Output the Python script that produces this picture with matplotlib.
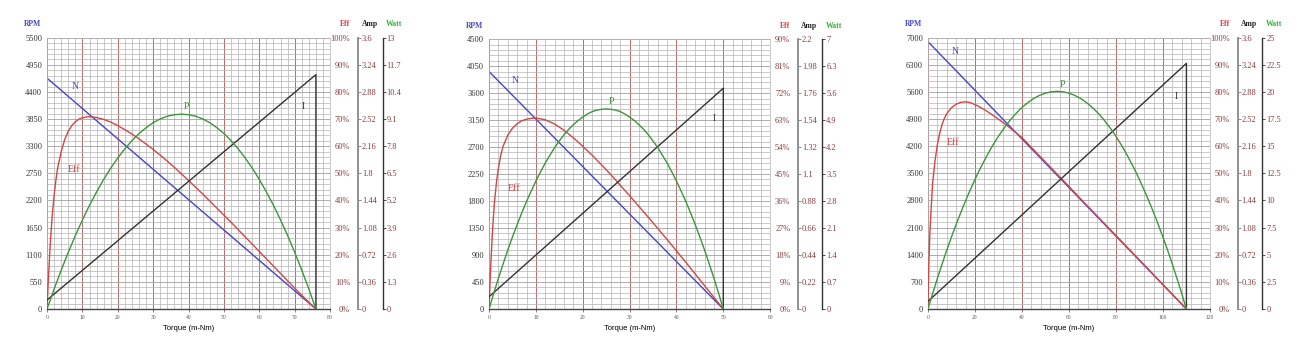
import numpy as np
import matplotlib.pyplot as plt

plt.rcParams['font.family'] = ['Liberation Serif', 'DejaVu Serif']

# ---- motor 1 ----
m1_n_torque = [0, 76]
m1_n_rpm = [4680, 0]
m1_i_torque = [0, 76, 76]
m1_i_amp = [0.12, 3.11, 0]
m1_eff_torque = [0, 0.25, 0.5, 0.75, 1, 1.5, 2, 2.5, 3, 4, 5, 6, 7, 8, 9, 10, 11,
                 12, 14, 16, 18, 20, 22, 24, 26, 28, 30, 32, 34, 36, 38, 40, 42,
                 44, 46, 48, 50, 52, 54, 56, 58, 60, 62, 64, 66, 68, 70, 72, 74, 76]
m1_eff_pct = [0, 7.5, 14, 20.5, 26, 35, 42, 47.5, 52, 58, 62.5, 65.5, 67.6, 69.0,
              70.0, 70.5, 70.8, 70.9, 70.6, 69.9, 68.9, 67.6, 66.1, 64.5, 62.7,
              60.8, 58.8, 56.7, 54.5, 52.2, 49.8, 47.4, 44.9, 42.4, 39.8, 37.2,
              34.6, 32.0, 29.3, 26.6, 23.9, 21.2, 18.5, 15.8, 13.1, 10.4, 7.7, 5.1,
              2.5, 0]
m1_p_torque = [0, 2, 4, 6, 8, 10, 12, 14, 16, 18, 20, 22, 24, 26, 28, 30, 32, 34,
               36, 38, 40, 42, 44, 46, 48, 50, 52, 54, 56, 58, 60, 62, 64, 66, 68,
               70, 72, 74, 76]
m1_p_watt = [0, 0.96, 1.86, 2.72, 3.52, 4.27, 4.97, 5.61, 6.21, 6.75, 7.24, 7.68,
             8.07, 8.41, 8.69, 8.93, 9.11, 9.24, 9.31, 9.34, 9.31, 9.24, 9.11, 8.93,
             8.69, 8.41, 8.07, 7.68, 7.24, 6.75, 6.21, 5.61, 4.97, 4.27, 3.52, 2.72,
             1.86, 0.96, 0]

# ---- motor 2 ----
m2_n_torque = [0, 50]
m2_n_rpm = [3960, 0]
m2_i_torque = [0, 50, 50]
m2_i_amp = [0.10, 1.80, 0]
m2_eff_torque = [0, 0.2, 0.4, 0.6, 0.8, 1.0, 1.2, 1.6, 2, 2.5, 3, 4, 5, 6, 7, 8, 9,
                 10, 12, 14, 16, 18, 20, 22, 24, 26, 28, 30, 32, 34, 36, 38, 40,
                 42, 44, 46, 48, 50]
m2_eff_pct = [0, 8.5, 15.5, 22, 27.5, 32.3, 36.4, 42.5, 47, 51.3, 54.3, 58.0, 60.3,
              61.8, 62.8, 63.3, 63.6, 63.7, 63.1, 61.7, 59.6, 57.1, 54.3, 51.3,
              48.1, 44.8, 41.3, 37.8, 34.2, 30.6, 26.9, 23.2, 19.4, 15.6, 11.7, 7.8,
              3.9, 0]
m2_p_torque = list(range(0, 51))
m2_p_watt = [0, 0.41, 0.80, 1.17, 1.53, 1.87, 2.19, 2.50, 2.79, 3.06, 3.32, 3.56,
             3.79, 3.99, 4.19, 4.36, 4.52, 4.66, 4.78, 4.89, 4.98, 5.06, 5.12, 5.16,
             5.18, 5.19, 5.18, 5.16, 5.12, 5.06, 4.98, 4.89, 4.78, 4.66, 4.52, 4.36,
             4.19, 3.99, 3.79, 3.56, 3.32, 3.06, 2.79, 2.50, 2.19, 1.87, 1.53, 1.17,
             0.80, 0.41, 0]

# ---- motor 3 ----
m3_n_torque = [0, 110]
m3_n_rpm = [6900, 0]
m3_i_torque = [0, 110, 110]
m3_i_amp = [0.10, 3.26, 0]
m3_eff_torque = [0, 0.2, 0.4, 0.7, 1, 1.3, 2, 3, 4, 5, 6, 7, 8, 10, 12, 14, 16, 18,
                 20, 22, 24, 26, 28, 30, 32, 34, 36, 38, 40, 45, 50, 55, 60, 65, 70,
                 75, 80, 85, 90, 95, 100, 105, 110]
m3_eff_pct = [0, 9, 17, 25, 31, 36, 46.5, 54.5, 60.5, 64.7, 68, 70.3, 72, 74.2,
              75.5, 76.2, 76.4, 76.1, 75.4, 74.5, 73.5, 72.4, 71.2, 70.0, 68.7,
              67.4, 66.0, 64.6, 63.2, 58.7, 54.2, 49.7, 45.2, 40.6, 36.1, 31.6,
              27.1, 22.6, 18.1, 13.6, 9.0, 4.5, 0]
m3_p_torque = [0, 2.5, 5, 7.5, 10, 12.5, 15, 17.5, 20, 22.5, 25, 27.5, 30, 32.5,
               35, 37.5, 40, 42.5, 45, 47.5, 50, 52.5, 55, 57.5, 60, 62.5, 65, 67.5,
               70, 72.5, 75, 77.5, 80, 82.5, 85, 87.5, 90, 92.5, 95, 97.5, 100,
               102.5, 105, 107.5, 110]
m3_p_watt = [0, 1.78, 3.48, 5.10, 6.63, 8.08, 9.45, 10.73, 11.94, 13.06, 14.09,
             15.05, 15.92, 16.70, 17.41, 18.03, 18.57, 19.02, 19.40, 19.69, 19.89,
             20.02, 20.06, 20.02, 19.89, 19.69, 19.40, 19.02, 18.57, 18.03, 17.41,
             16.70, 15.92, 15.05, 14.09, 13.06, 11.94, 10.73, 9.45, 8.08, 6.63, 5.10,
             3.48, 1.78, 0]

# axis ranges per chart
torque_max = [80, 60, 120]
torque_step = [10, 10, 20]
rpm_max = [5500, 4500, 7000]
eff_max = [100, 90, 100]
amp_max = [3.6, 2.2, 3.6]
watt_max = [13, 7, 25]

# curve label positions (axes fraction)
label_pos = [
    {'N': (0.099, 0.822), 'Eff': (0.095, 0.516), 'P': (0.494, 0.746), 'I': (0.904, 0.748)},
    {'N': (0.093, 0.848), 'Eff': (0.087, 0.447), 'P': (0.434, 0.768), 'I': (0.802, 0.706)},
    {'N': (0.096, 0.951), 'Eff': (0.090, 0.613), 'P': (0.478, 0.826), 'I': (0.879, 0.783)},
]

charts = [
    (m1_n_torque, m1_n_rpm, m1_i_torque, m1_i_amp, m1_eff_torque, m1_eff_pct, m1_p_torque, m1_p_watt),
    (m2_n_torque, m2_n_rpm, m2_i_torque, m2_i_amp, m2_eff_torque, m2_eff_pct, m2_p_torque, m2_p_watt),
    (m3_n_torque, m3_n_rpm, m3_i_torque, m3_i_amp, m3_eff_torque, m3_eff_pct, m3_p_torque, m3_p_watt),
]

BLUE = '#4646c8'
RED = '#d24646'
GREEN = '#3c963c'
BLACK = '#333333'
LABEL_RED = '#8b3a3a'
GRID = '#b4b4b4'
MAJOR = '#b86a6a'

axes_rects = [
    [0.0362, 0.132, 0.2177, 0.762],
    [0.3762, 0.132, 0.2162, 0.758],
    [0.7138, 0.132, 0.2169, 0.762],
]

fig = plt.figure(figsize=(13, 3.56), dpi=100)


def fmt_num(v):
    return f"{round(v, 2):g}"


for k, (nt, nr, it, ia, et, ep, pt, pw) in enumerate(charts):
    ax = fig.add_axes(axes_rects[k])
    tmax = torque_max[k]
    ax.set_xlim(0, tmax)
    ax.set_ylim(0, rpm_max[k])

    # grid
    xtk = np.arange(0, tmax + 0.01, torque_step[k])
    ax.set_xticks(xtk)
    ax.set_xticks(np.arange(0, tmax + 0.01, torque_step[k] / 5), minor=True)
    ytk = np.linspace(0, rpm_max[k], 11)
    ax.set_yticks(ytk)
    ax.set_yticks(np.linspace(0, rpm_max[k], 51), minor=True)
    ax.grid(which='minor', color=GRID, lw=0.5)
    ax.grid(which='major', axis='y', color='#a0a0a0', lw=0.6)
    ax.grid(which='major', axis='x', color=MAJOR, lw=0.7)
    ax.set_axisbelow(True)
    ax.tick_params(which='minor', length=0)
    ax.tick_params(axis='y', which='major', length=0, pad=3.5, labelsize=6, labelcolor='#333333')
    ax.tick_params(axis='x', which='major', length=2, width=0.5, pad=2, labelsize=4,
                   labelcolor='#555555', color='#555555')
    ax.set_yticklabels([fmt_num(v) for v in ytk])
    ax.set_xticklabels([fmt_num(v) for v in xtk])
    for s in ['top', 'left', 'right']:
        ax.spines[s].set_color(GRID)
        ax.spines[s].set_linewidth(0.5)
    ax.spines['bottom'].set_color('#444444')
    ax.spines['bottom'].set_linewidth(1.0)
    ax.set_xlabel('Torque (m-Nm)', fontsize=5.5, family='Liberation Sans', labelpad=4)

    ax.plot(nt, nr, color=BLUE, lw=1.0)

    # efficiency axis
    ax_e = ax.twinx()
    ax_e.set_ylim(0, eff_max[k])
    etk = np.linspace(0, eff_max[k], 11)
    ax_e.set_yticks(etk)
    ax_e.set_yticklabels([f"{round(v):d}%" for v in etk])
    ax_e.tick_params(length=0, pad=14.5, labelsize=6, labelcolor=LABEL_RED)
    for lab in ax_e.get_yticklabels():
        lab.set_ha('right')
    for s in ax_e.spines.values():
        s.set_visible(False)
    ax_e.plot(et, ep, color=RED, lw=1.0)

    # current axis
    ax_a = ax.twinx()
    ax_a.spines['right'].set_position(('axes', 1.099))
    ax_a.set_ylim(0, amp_max[k])
    atk = np.linspace(0, amp_max[k], 11)
    ax_a.set_yticks(atk)
    ax_a.set_yticklabels([fmt_num(v) for v in atk])
    ax_a.tick_params(length=2, width=0.6, pad=0.8, labelsize=6, labelcolor=LABEL_RED, color='#777777')
    for s in ['top', 'left', 'bottom']:
        ax_a.spines[s].set_visible(False)
    ax_a.spines['right'].set_color('#888888')
    ax_a.spines['right'].set_linewidth(1.3)
    ax_a.plot(it, ia, color=BLACK, lw=1.0)

    # power axis
    ax_w = ax.twinx()
    ax_w.spines['right'].set_position(('axes', 1.186))
    ax_w.set_ylim(0, watt_max[k])
    wtk = np.linspace(0, watt_max[k], 11)
    ax_w.set_yticks(wtk)
    ax_w.set_yticklabels([fmt_num(v) for v in wtk])
    ax_w.tick_params(length=2, width=0.6, pad=0.8, labelsize=6, labelcolor=LABEL_RED, color='#333333')
    for s in ['top', 'left', 'bottom']:
        ax_w.spines[s].set_visible(False)
    ax_w.spines['right'].set_color('#333333')
    ax_w.spines['right'].set_linewidth(1.0)
    ax_w.plot(pt, pw, color=GREEN, lw=1.0)

    # headers
    ax.text(-0.051, 1.05, 'RPM', transform=ax.transAxes, ha='center', va='center',
            fontsize=5.5, fontweight='bold', color=BLUE)
    ax.text(1.052, 1.05, 'Eff', transform=ax.transAxes, ha='center', va='center',
            fontsize=5.5, fontweight='bold', color='#d23c3c')
    ax.text(1.14, 1.05, 'Amp', transform=ax.transAxes, ha='center', va='center',
            fontsize=5.5, fontweight='bold', color='#222222')
    ax.text(1.227, 1.05, 'Watt', transform=ax.transAxes, ha='center', va='center',
            fontsize=5.5, fontweight='bold', color='#3caa3c')

    # curve labels
    lp = label_pos[k]
    ax.text(*lp['N'], 'N', transform=ax.transAxes, ha='center', va='center', fontsize=7, color=BLUE)
    ax.text(*lp['Eff'], 'Eff', transform=ax.transAxes, ha='center', va='center', fontsize=7, color=RED)
    ax.text(*lp['P'], 'P', transform=ax.transAxes, ha='center', va='center', fontsize=7, color=GREEN)
    ax.text(*lp['I'], 'I', transform=ax.transAxes, ha='center', va='center', fontsize=7, color=BLACK)

fig.savefig('out.png', dpi=100)
